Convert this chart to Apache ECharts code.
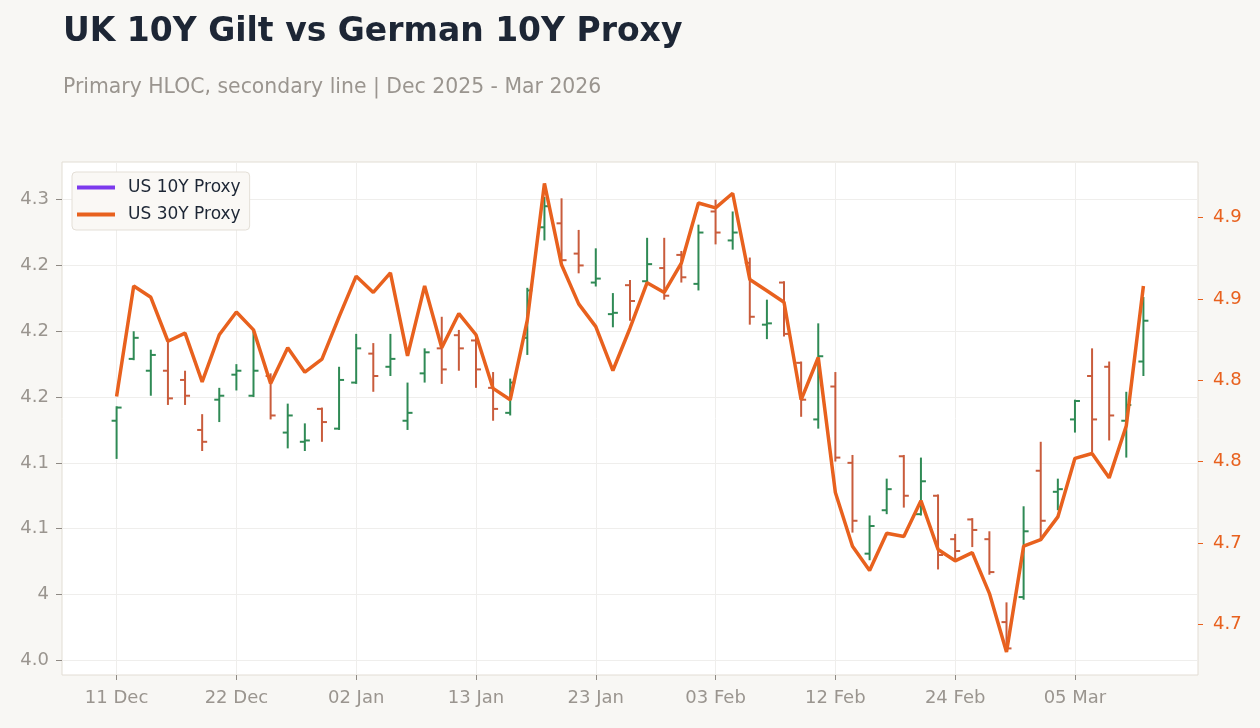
<!DOCTYPE html>
<html>
<head>
<meta charset="utf-8">
<title>UK 10Y Gilt vs German 10Y Proxy</title>
<script src="https://cdn.jsdelivr.net/npm/echarts@6/dist/echarts.min.js"></script>
<style>
  html, body { margin: 0; padding: 0; background: #f8f7f4; }
  #main { width: 1260px; height: 728px; }
</style>
</head>
<body>
<div id="main"></div>
<script>
/*#############  数据  ###############*/
// trading days (x categories)
var days = [
  "11 Dec", "12 Dec", "15 Dec", "16 Dec", "17 Dec", "18 Dec", "19 Dec",
  "22 Dec", "23 Dec", "24 Dec", "26 Dec", "29 Dec", "30 Dec", "31 Dec",
  "02 Jan", "05 Jan", "06 Jan", "07 Jan", "08 Jan", "09 Jan", "12 Jan",
  "13 Jan", "14 Jan", "15 Jan", "16 Jan", "20 Jan", "21 Jan", "22 Jan",
  "23 Jan", "26 Jan", "27 Jan", "28 Jan", "29 Jan", "30 Jan", "02 Feb",
  "03 Feb", "04 Feb", "05 Feb", "06 Feb", "09 Feb", "10 Feb", "11 Feb",
  "12 Feb", "13 Feb", "17 Feb", "18 Feb", "19 Feb", "20 Feb", "23 Feb",
  "24 Feb", "25 Feb", "26 Feb", "27 Feb", "02 Mar", "03 Mar", "04 Mar",
  "05 Mar", "06 Mar", "09 Mar", "10 Mar", "11 Mar"
];

// US 10Y proxy, HLOC (left axis)
var opens = [
  4.132, 4.179, 4.170, 4.170, 4.163, 4.125, 4.148, 4.167, 4.151, 4.166,
  4.123, 4.116, 4.141, 4.126, 4.161, 4.183, 4.173, 4.132, 4.168, 4.187,
  4.197, 4.193, 4.157, 4.138, 4.195, 4.279, 4.282, 4.259, 4.237, 4.213,
  4.235, 4.238, 4.248, 4.258, 4.236, 4.291, 4.269, 4.252, 4.205, 4.237,
  4.176, 4.133, 4.158, 4.100, 4.031, 4.064, 4.105, 4.061, 4.075, 4.042,
  4.057, 4.042, 3.979, 3.998, 4.094, 4.078, 4.133, 4.166, 4.173, 4.132,
  4.177
];
var highs = [
  4.143, 4.200, 4.186, 4.192, 4.170, 4.137, 4.157, 4.175, 4.200, 4.168,
  4.145, 4.130, 4.142, 4.173, 4.198, 4.191, 4.198, 4.161, 4.187, 4.211,
  4.201, 4.196, 4.169, 4.164, 4.233, 4.302, 4.301, 4.277, 4.263, 4.229,
  4.239, 4.271, 4.271, 4.261, 4.281, 4.300, 4.291, 4.256, 4.224, 4.238,
  4.177, 4.206, 4.169, 4.106, 4.060, 4.088, 4.106, 4.104, 4.076, 4.046,
  4.058, 4.048, 3.994, 4.067, 4.116, 4.088, 4.148, 4.187, 4.177, 4.154,
  4.226
];
var lows = [
  4.103, 4.178, 4.151, 4.144, 4.144, 4.109, 4.131, 4.155, 4.150, 4.133,
  4.111, 4.109, 4.116, 4.125, 4.160, 4.154, 4.166, 4.125, 4.161, 4.160,
  4.170, 4.157, 4.132, 4.136, 4.182, 4.269, 4.253, 4.244, 4.234, 4.203,
  4.208, 4.237, 4.224, 4.237, 4.231, 4.266, 4.262, 4.205, 4.194, 4.196,
  4.135, 4.126, 4.101, 4.047, 4.026, 4.061, 4.066, 4.060, 4.019, 4.026,
  4.036, 4.015, 3.957, 3.996, 4.042, 4.064, 4.123, 4.108, 4.117, 4.104,
  4.166
];
var closes = [
  4.142, 4.195, 4.182, 4.149, 4.151, 4.116, 4.151, 4.170, 4.170, 4.136,
  4.136, 4.117, 4.131, 4.163, 4.187, 4.166, 4.179, 4.138, 4.184, 4.171,
  4.187, 4.171, 4.141, 4.161, 4.231, 4.295, 4.254, 4.250, 4.240, 4.214,
  4.223, 4.251, 4.227, 4.241, 4.275, 4.275, 4.275, 4.211, 4.206, 4.198,
  4.148, 4.181, 4.104, 4.056, 4.052, 4.080, 4.075, 4.086, 4.030, 4.033,
  4.049, 4.017, 3.959, 4.048, 4.056, 4.080, 4.147, 4.133, 4.136, 4.144,
  4.208
];

// US 30Y proxy (right axis)
var us30 = [
  4.790, 4.858, 4.851, 4.824, 4.829, 4.799, 4.828, 4.842, 4.831, 4.798,
  4.820, 4.805, 4.813, 4.839, 4.864, 4.854, 4.866, 4.815, 4.858, 4.820,
  4.841, 4.828, 4.795, 4.788, 4.837, 4.921, 4.871, 4.847, 4.833, 4.806,
  4.832, 4.860, 4.854, 4.872, 4.909, 4.906, 4.915, 4.862, 4.855, 4.848,
  4.788, 4.814, 4.731, 4.698, 4.683, 4.706, 4.704, 4.726, 4.696, 4.689,
  4.694, 4.669, 4.633, 4.698, 4.702, 4.716, 4.752, 4.755, 4.740, 4.772,
  4.858
];

// tick values and their printed labels
var xTicks = [0, 7, 14, 21, 28, 35, 42, 49, 56];
var leftTicks = [3.95, 4.0, 4.05, 4.1, 4.15, 4.2, 4.25, 4.3];
var leftLabels = ["4.0", "4", "4.1", "4.1", "4.2", "4.2", "4.2", "4.3"];
var rightTicks = [4.65, 4.7, 4.75, 4.8, 4.85, 4.9];
var rightLabels = ["4.7", "4.7", "4.8", "4.8", "4.9", "4.9"];

/*#############  图表  ###############*/
var upColor = "#2f8a55";
var downColor = "#c95c3c";
var lineColor = "#e8611e";
var labelGray = "#9a958f";

var hloc = [];
for (var i = 0; i < days.length; i++) {
  hloc.push([i, opens[i], highs[i], lows[i], closes[i]]);
}
var line30 = [];
for (var j = 0; j < days.length; j++) {
  line30.push([j, us30[j]]);
}

function pickLabel(ticks, labels, v) {
  for (var k = 0; k < ticks.length; k++) {
    if (Math.abs(ticks[k] - v) < 1e-6) return labels[k];
  }
  return "";
}

// HLOC bar: high-low stem, open tick left, close tick right
function renderHloc(params, api) {
  var x = api.value(0);
  var o = api.coord([x, api.value(1)]);
  var h = api.coord([x, api.value(2)]);
  var l = api.coord([x, api.value(3)]);
  var c = api.coord([x, api.value(4)]);
  var col = api.value(4) >= api.value(1) ? upColor : downColor;
  var st = { stroke: col, lineWidth: 2 };
  return {
    type: "group",
    children: [
      { type: "line", shape: { x1: h[0], y1: h[1], x2: l[0], y2: l[1] }, style: st },
      { type: "line", shape: { x1: o[0] - 5, y1: o[1], x2: o[0], y2: o[1] }, style: st },
      { type: "line", shape: { x1: c[0], y1: c[1], x2: c[0] + 5, y2: c[1] }, style: st }
    ]
  };
}

var myChart = echarts.init(document.getElementById("main"));
var option = {
  backgroundColor: "#f8f7f4",
  animation: false,
  textStyle: { fontFamily: "DejaVu Sans" },
  title: {
    text: "UK 10Y Gilt vs German 10Y Proxy",
    subtext: "Primary HLOC, secondary line | Dec 2025 - Mar 2026",
    left: 63,
    top: 16,
    padding: 0,
    itemGap: 29,
    textStyle: { fontSize: 33, fontWeight: "bold", color: "#1d2635", fontFamily: "DejaVu Sans" },
    subtextStyle: { fontSize: 20.4, color: "#9a958f", fontFamily: "DejaVu Sans" }
  },
  legend: {
    orient: "vertical",
    left: 72,
    top: 172,
    padding: [7, 9, 7, 5],
    itemGap: 10,
    itemWidth: 38,
    itemHeight: 4,
    backgroundColor: "#faf8f5",
    borderColor: "#e4dfd7",
    borderWidth: 1,
    borderRadius: 4,
    textStyle: { fontSize: 17, color: "#1d2635", padding: [0, 0, 0, 8] },
    data: [
      { name: "US 10Y Proxy", icon: "rect" },
      { name: "US 30Y Proxy", icon: "rect" }
    ]
  },
  grid: {
    left: 62,
    right: 62,
    top: 162,
    bottom: 53,
    show: true,
    backgroundColor: "#ffffff",
    borderColor: "#e2ddd4",
    borderWidth: 1
  },
  xAxis: {
    type: "value",
    min: -3.19,
    max: 63.19,
    axisLine: { show: false, onZero: false },
    axisTick: { show: true, length: 5, lineStyle: { color: "#8f8a84" }, customValues: xTicks },
    splitLine: { show: true, lineStyle: { color: "#efeeec" } },
    axisLabel: {
      customValues: xTicks,
      margin: 14,
      fontSize: 18,
      color: labelGray,
      formatter: function (v) {
        return days[Math.round(v)] || "";
      }
    }
  },
  yAxis: [
    {
      type: "value",
      position: "left",
      min: 3.9388,
      max: 4.3286,
      axisLine: { show: false, onZero: false },
      axisTick: { show: true, length: 6, lineStyle: { color: "#8f8a84" }, customValues: leftTicks },
      splitLine: { show: true, lineStyle: { color: "#efeeec" } },
      axisLabel: {
        customValues: leftTicks,
        margin: 13,
        fontSize: 18,
        color: labelGray,
        formatter: function (v) {
          return pickLabel(leftTicks, leftLabels, v);
        }
      }
    },
    {
      type: "value",
      position: "right",
      min: 4.6188,
      max: 4.9342,
      axisLine: { show: false, onZero: false },
      axisTick: { show: true, length: 5, lineStyle: { color: lineColor }, customValues: rightTicks },
      splitLine: { show: false },
      axisLabel: {
        customValues: rightTicks,
        margin: 15,
        fontSize: 18,
        color: lineColor,
        formatter: function (v) {
          return pickLabel(rightTicks, rightLabels, v);
        }
      }
    }
  ],
  series: [
    {
      name: "US 10Y Proxy",
      type: "custom",
      renderItem: renderHloc,
      itemStyle: { color: "#7c3aed" },
      encode: { x: 0, y: [1, 2, 3, 4] },
      yAxisIndex: 0,
      data: hloc,
      z: 2
    },
    {
      name: "US 30Y Proxy",
      type: "line",
      yAxisIndex: 1,
      showSymbol: false,
      symbol: "none",
      lineStyle: { color: lineColor, width: 3.5 },
      itemStyle: { color: lineColor },
      data: line30,
      z: 3
    }
  ]
};
if (option && typeof option === "object") {
  myChart.setOption(option, true);
}
</script>
</body>
</html>
